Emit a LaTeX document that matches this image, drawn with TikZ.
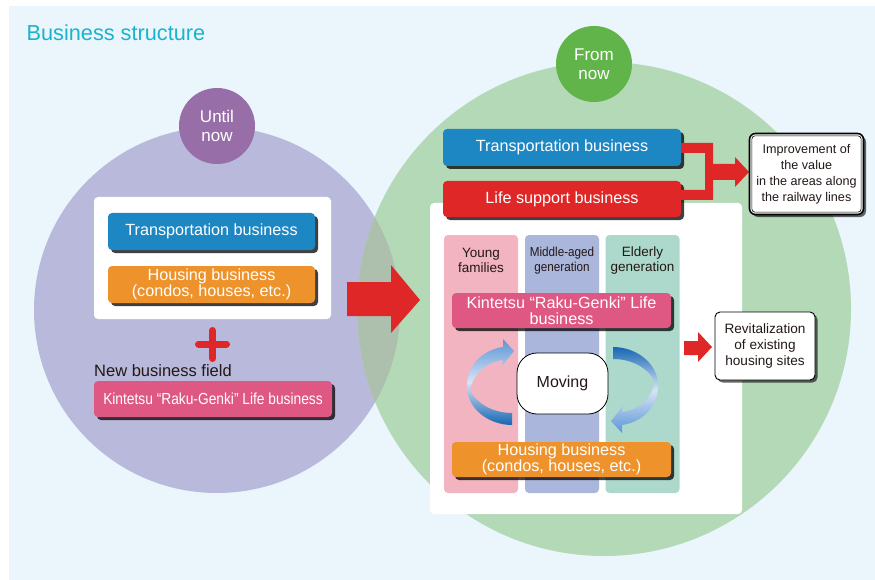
\documentclass[tikz,border=0pt]{standalone}
\usepackage{fontspec}
\setmainfont{Liberation Sans}
\newfontfamily\condfont[FakeStretch=0.86]{Liberation Sans}
\newfontfamily\midfont[FakeStretch=0.9]{Liberation Sans}
\usetikzlibrary{shadows}
\definecolor{bgc}{HTML}{EAF5FC}
\definecolor{purp}{HTML}{B9BADB}
\definecolor{untilc}{HTML}{976EA7}
\definecolor{greenc}{HTML}{B4D9B7}
\definecolor{fromc}{HTML}{61B44A}
\definecolor{lensc}{HTML}{ADC0AE}
\definecolor{tblue}{HTML}{1D87C4}
\definecolor{orng}{HTML}{EE922B}
\definecolor{redc}{HTML}{E02727}
\definecolor{pinkc}{HTML}{DF5883}
\definecolor{ycol}{HTML}{F2B4C0}
\definecolor{mcol}{HTML}{AAB6DC}
\definecolor{ecol}{HTML}{ACD9CB}
\definecolor{titlec}{HTML}{19B3CF}
\definecolor{darktext}{HTML}{231815}
\definecolor{arrdark}{HTML}{1766B2}
\definecolor{arrmid}{HTML}{5B95D5}
\definecolor{arrlight}{HTML}{D6E4F5}
\tikzset{
  cbox/.style={rounded corners=4pt, text=white, align=center, inner sep=0pt,
    font=\fontsize{16.2}{16}\selectfont,
    drop shadow={shadow xshift=3pt,shadow yshift=-3pt,fill=black,opacity=0.75}},
  colbox/.style={rounded corners=4pt, inner sep=0pt, minimum width=74pt, minimum height=258pt},
  lbl/.style={align=center, text=darktext, inner sep=0pt, font=\fontsize{13.5}{15}\selectfont},
  bubble/.style={circle, inner sep=0pt, minimum size=76pt, text=white, align=center,
    font=\fontsize{17}{18.5}\selectfont},
  panel/.style={fill=white, rounded corners=4pt, inner sep=0pt},
  resbox/.style={fill=white, draw=black, line width=0.9pt, rounded corners=5pt, align=center,
    inner sep=0pt, text=darktext,
    drop shadow={shadow xshift=2.5pt,shadow yshift=-2.5pt,fill=black,opacity=0.6}},
  redshape/.style={fill=redc}
}
\begin{document}
\begin{tikzpicture}[x=1pt,y=-1pt]
\useasboundingbox (0,0) rectangle (875,580);
\fill[bgc] (9,6) rectangle (875,580);
% big circles
\node[circle, fill=purp, inner sep=0pt, minimum size=366pt] (pastC) at (217,310) {};
\node[circle, fill=greenc, inner sep=0pt, minimum size=494pt] (futC) at (604,309) {};
\begin{scope}
  \clip (217,310) circle (183pt);
  \fill[lensc] (604,309) circle (247pt);
\end{scope}
\node[bubble, fill=untilc] (until) at (217,126) {Until\\now};
\node[bubble, fill=fromc] (from) at (594,64) {From\\now};
% title
\node[anchor=west, text=titlec, inner sep=0pt, font=\fontsize{21.7}{21.7}\selectfont] (title) at (26.5,33) {Business structure};
% left panel
\node[panel, minimum width=237pt, minimum height=122pt] (panelL) at (212.5,258) {};
\node[cbox, fill=tblue, minimum width=207pt, minimum height=37pt] (tL) at (211.5,231.5) {Transportation business};
\node[cbox, fill=orng, minimum width=207pt, minimum height=37pt] (hL) at (211.5,284.5) {Housing business\\(condos, houses, etc.)};
\draw[redc, line width=7pt, line cap=round] (198.5,344) -- (226.5,344) (212.5,330.5) -- (212.5,358.5);
\node[anchor=west, text=darktext, inner sep=0pt, font=\fontsize{16.5}{16.5}\selectfont] (newf) at (94,371) {New business field};
\node[cbox, fill=pinkc, minimum width=238pt, minimum height=36pt, font=\condfont\fontsize{16}{16}\selectfont] (kL) at (213,399) {Kintetsu “Raku-Genki” Life business};
% big red arrow
\fill[redc] (347,282) -- (391,282) -- (391,265) -- (420,300) -- (391,333) -- (391,316) -- (347,316) -- cycle;
% right panel
\node[panel, minimum width=312pt, minimum height=311pt] (panelR) at (586,358.5) {};
\node[colbox, fill=ycol] (colY) at (481,364) {};
\node[colbox, fill=mcol] (colM) at (562,364) {};
\node[colbox, fill=ecol] (colE) at (642.5,364) {};
\node[lbl] (lY) at (481,260.5) {Young\\families};
\node[lbl, font=\midfont\fontsize{13}{15}\selectfont] (lM) at (562,260.5) {Middle-aged\\generation};
\node[lbl] (lE) at (642.5,260.5) {Elderly\\generation};
% top boxes
\node[cbox, fill=tblue, minimum width=238pt, minimum height=37pt] (tR) at (562,147.5) {Transportation business};
\node[cbox, fill=redc, minimum width=238pt, minimum height=36pt] (lR) at (562,199) {Life support business};
% bracket arrow
\fill[redc] (681,143) -- (713,143) -- (713,164) -- (735,164) -- (735,157) -- (749,172) -- (735,187) -- (735,180) -- (713,180) -- (713,200) -- (681,200) -- (681,190) -- (705,190) -- (705,153) -- (681,153) -- cycle;
% improvement box
\node[resbox, line width=1.6pt, rounded corners=6pt, minimum width=114pt, minimum height=81pt,
  font=\fontsize{12.6}{16}\selectfont] (imp) at (806.5,174) {Improvement of\\the value\\in the areas along\\the railway lines};
\draw[black, line width=0.6pt, rounded corners=3pt] ([shift={(3.2,3.2)}]imp.north west) rectangle ([shift={(-3.2,-3.2)}]imp.south east);
% Kintetsu right
\node[cbox, fill=pinkc, minimum width=219pt, minimum height=35pt] (kR) at (561.5,310.5) {Kintetsu “Raku-Genki” Life\\business};
% housing right
\node[cbox, fill=orng, minimum width=219pt, minimum height=35pt] (hR) at (561.5,459.5) {Housing business\\(condos, houses, etc.)};
% moving
\node[draw=black, fill=white, line width=0.8pt, rounded corners=20pt, minimum width=91pt, minimum height=61pt,
  inner sep=0pt, text=darktext, font=\fontsize{16}{16}\selectfont] (mov) at (562.5,383.5) {Moving};
% curved arrows
\shade[top color=arrmid, bottom color=arrdark, middle color=arrlight]
  (512,413) .. controls (492,413) and (476,403) .. (470,390)
  .. controls (474,372) and (487,362) .. (503,360)
  -- (502,366) -- (514,351) -- (503,339) -- (503,347)
  .. controls (482,350) and (466,366) .. (467,388)
  .. controls (468,410) and (490,425) .. (512,425) -- cycle;
\shade[top color=arrdark, bottom color=arrmid, middle color=arrlight]
  (613,359) .. controls (633,359) and (649,369) .. (655,382)
  .. controls (651,400) and (638,410) .. (622,412)
  -- (623,406) -- (611,421) -- (622,433) -- (622,425)
  .. controls (643,422) and (659,406) .. (658,384)
  .. controls (657,362) and (635,347) .. (613,347) -- cycle;
% small red arrow
\fill[redc] (684,341) -- (698,341) -- (698,332) -- (712,347) -- (698,362) -- (698,355) -- (684,355) -- cycle;
% revitalization
\node[resbox, minimum width=100pt, minimum height=68pt, font=\fontsize{13.6}{16}\selectfont] (rev) at (765,346) {Revitalization\\of existing\\housing sites};
\end{tikzpicture}
\end{document}
